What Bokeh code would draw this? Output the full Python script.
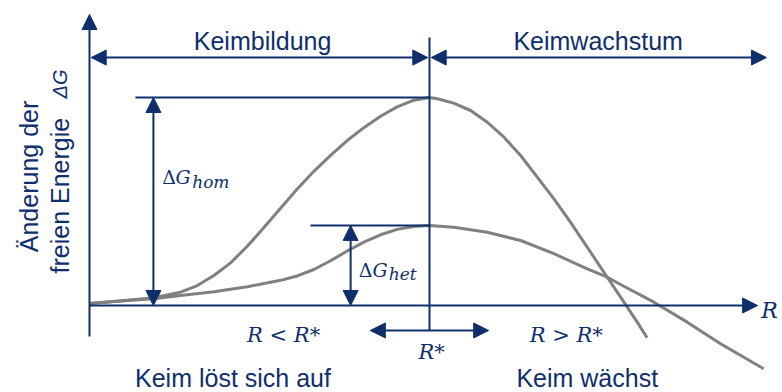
import math
from bokeh.plotting import figure
from bokeh.models import Range1d, Arrow, NormalHead, Label
from bokeh.embed import file_html
from bokeh.resources import INLINE

# ---------------- data (R* = 1, dG_hom = 1) ----------------
R_hom = [0.0, 0.072, 0.189, 0.268, 0.317, 0.366, 0.415, 0.464, 0.513, 0.562, 0.611,
         0.660, 0.709, 0.758, 0.807, 0.856, 0.905, 0.954, 1.0, 1.023, 1.071, 1.121,
         1.170, 1.219, 1.268, 1.317, 1.366, 1.415, 1.464, 1.513, 1.562, 1.611, 1.640]
G_hom = [0.010, 0.019, 0.037, 0.064, 0.096, 0.144, 0.205, 0.285, 0.375, 0.468, 0.560,
         0.645, 0.722, 0.793, 0.855, 0.910, 0.955, 0.987, 1.0, 0.994, 0.973, 0.9375,
         0.881, 0.809, 0.721, 0.617, 0.513, 0.400, 0.280, 0.160, 0.040, -0.080, -0.155]

R_het = [0.0, 0.072, 0.189, 0.268, 0.366, 0.464, 0.562, 0.611, 0.660, 0.709, 0.758,
         0.807, 0.856, 0.905, 0.954, 1.0, 1.071, 1.170, 1.268, 1.366, 1.464, 1.523,
         1.562, 1.660, 1.758, 1.856, 1.983]
G_het = [0.010, 0.019, 0.032, 0.048, 0.066, 0.090, 0.121, 0.142, 0.173, 0.215, 0.262,
         0.305, 0.340, 0.366, 0.380, 0.385, 0.376, 0.352, 0.3125, 0.249, 0.176, 0.136,
         0.101, 0.016, -0.080, -0.184, -0.304]

R_STAR = 1.0
DG_HOM = max(G_hom)
DG_HET = max(G_het)

NAVY = "#0E2F6C"
GREY = "#808080"

# ---------------- figure ----------------
W, H = 782, 392
p = figure(width=W, height=H, output_backend="svg", toolbar_location=None,
           x_axis_type=None, y_axis_type=None, min_border=0,
           x_range=Range1d(-89 / 340, 693 / 340), y_range=Range1d(-87 / 208, 305 / 208))
p.grid.visible = False
p.outline_line_color = None
p.background_fill_color = "white"
p.border_fill_color = "white"

# curves
p.line(R_hom, G_hom, line_color=GREY, line_width=3, line_join="round", line_cap="butt")
p.line(R_het, G_het, line_color=GREY, line_width=3, line_join="round", line_cap="butt")


def head():
    return NormalHead(size=15, fill_color=NAVY, line_color=NAVY, line_width=1)


def arrow(x0, y0, x1, y1, start=False, end=True):
    p.add_layout(Arrow(x_start=x0, y_start=y0, x_end=x1, y_end=y1,
                       start=head() if start else None, end=head() if end else None,
                       line_color=NAVY, line_width=2))


def seg(x0, y0, x1, y1):
    p.segment(x0=[x0], y0=[y0], x1=[x1], y1=[y1], line_color=NAVY, line_width=2)


# axes
arrow(0, -0.149, 0, 1.399)
arrow(0, 0, 1.965, 0)

# top region arrows
arrow(0.005, 1.192, R_STAR - 0.005, 1.192, start=True, end=True)
arrow(R_STAR + 0.005, 1.192, 1.991, 1.192, start=True, end=True)

# R* line
seg(R_STAR, -0.120, R_STAR, 1.288)

# dG hom
seg(0.135, DG_HOM, R_STAR, DG_HOM)
arrow(0.188, 0, 0.188, DG_HOM, start=True, end=True)

# dG het
seg(0.65, DG_HET, R_STAR, DG_HET)
arrow(0.768, 0, 0.768, DG_HET, start=True, end=True)

# bottom double arrow around R*
arrow(0.826, -0.120, 1.174, -0.120, start=True, end=True)

SHIFT_Y = 7 / 208   # text baseline correction (upwards)
SHIFT_X = 8 / 340   # same for rotated texts (leftwards)


def lab(x, y, text, size, font="Liberation Sans", style="normal", align="center", angle=0.0):
    if angle:
        x -= SHIFT_X
    else:
        y += SHIFT_Y
    p.add_layout(Label(x=x, y=y, text=text, text_font=font, text_font_size=size,
                       text_font_style=style, text_color=NAVY, text_align=align,
                       text_baseline="alphabetic", angle=angle))


lab(0.509, 1.236, "Keimbildung", "25px")
lab(1.496, 1.236, "Keimwachstum", "25px")
lab(0.422, -0.381, "Keim löst sich auf", "25px")
lab(1.464, -0.381, "Keim wächst", "25px")

SER = "DejaVu Serif"
# dG_hom label
lab(0.214, 0.585, "Δ", "19px", font=SER, align="left")
lab(0.253, 0.585, "G", "19px", font=SER, style="italic", align="left")
lab(0.302, 0.561, "hom", "17px", font=SER, style="italic", align="left")
# dG_het label
lab(0.792, 0.136, "Δ", "19px", font=SER, align="left")
lab(0.832, 0.136, "G", "19px", font=SER, style="italic", align="left")
lab(0.880, 0.120, "het", "17px", font=SER, style="italic", align="left")

lab(0.571, -0.176, "R < R*", "21px", font=SER, style="italic")
lab(1.402, -0.176, "R > R*", "21px", font=SER, style="italic")
lab(1.006, -0.256, "R*", "21px", font=SER, style="italic")
lab(1.976, -0.056, "R", "22px", font=SER, style="italic", align="left")

# y label (rotated)
lab(-0.154, 0.637, "Änderung  der", "25px", angle=math.pi / 2)
lab(-0.0647, 0.154, "freien  Energie", "25px", align="left", angle=math.pi / 2)
lab(-0.0647, 0.995, "ΔG", "20px", style="italic", align="left", angle=math.pi / 2)

open("out.html", "w").write(file_html(p, INLINE))
